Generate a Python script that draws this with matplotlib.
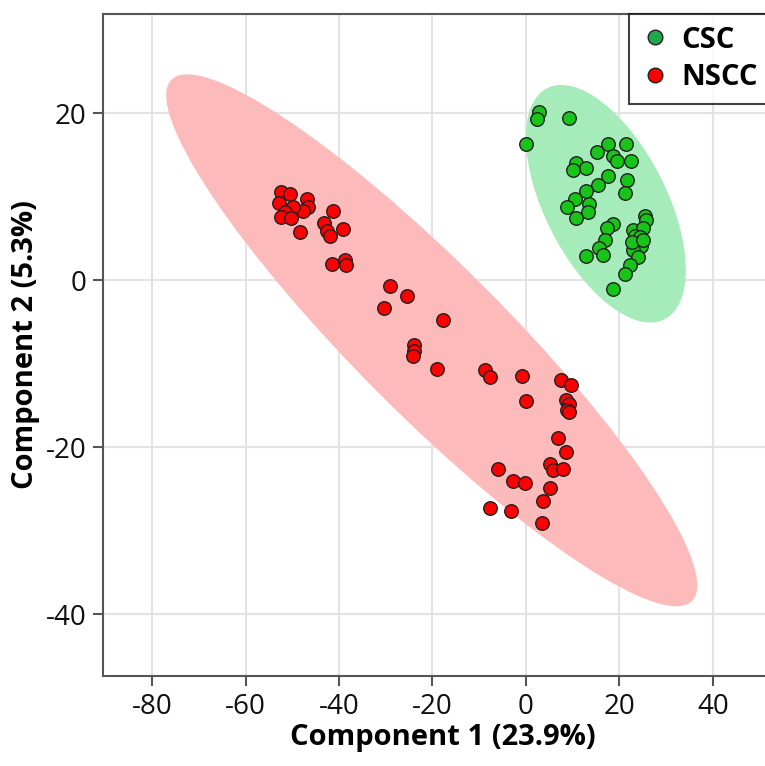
import matplotlib

matplotlib.use('Agg')

import matplotlib.pyplot as plt
import numpy as np
from matplotlib.patches import Ellipse
from matplotlib.lines import Line2D

plt.rcParams['font.family'] = ['Open Sans', 'DejaVu Sans']
plt.rcParams['axes.unicode_minus'] = False

# PLS-DA scores
csc_x = [2.8, 2.4, 9.3, 0.0, 10.7, 12.8, 10.1, 17.5, 21.5, 15.3, 18.7, 19.4, 22.5,
         17.6, 21.7, 15.5, 21.2, 12.8, 10.5, 8.7, 13.5, 13.3, 10.7, 25.5, 25.7,
         18.7, 17.3, 23.0, 25.1, 23.3, 24.4, 16.9, 24.6, 15.7, 23.0, 16.5, 12.8,
         24.0, 22.2, 21.2, 18.7, 22.6, 25.0]
csc_y = [20.2, 19.3, 19.5, 16.3, 14.0, 13.4, 13.2, 16.3, 16.3, 15.4, 14.9, 14.3, 14.3,
         12.5, 12.0, 11.4, 10.4, 10.7, 9.7, 8.8, 9.1, 8.2, 7.5, 7.7, 7.2,
         6.7, 6.3, 6.0, 6.3, 5.3, 5.2, 4.8, 4.1, 3.9, 3.6, 3.0, 2.9,
         2.8, 1.8, 0.7, -1.1, 4.6, 4.8]

nscc_x = [-52.4, -50.5, -52.8, -46.9, -46.6, -47.6, -49.9, -51.6, -52.5, -50.3,
          -48.3, -41.3, -43.2, -42.6, -41.9, -39.1, -41.6, -38.7, -38.5,
          -29.1, -25.4, -30.4, -17.7, -24.0, -23.9, -24.2, -19.0, -8.8, -7.6,
          -0.8, 7.4, 9.6, 8.6, 9.2, 8.7, 9.1, 0.1, 6.9, 8.6, 5.1, 5.7, 8.0,
          -5.9, -2.7, -0.2, 5.1, 3.6, -7.6, -3.3, 3.4]
nscc_y = [10.6, 10.3, 9.3, 9.8, 8.8, 8.3, 8.8, 8.2, 7.6, 7.5,
          5.8, 8.3, 6.9, 5.9, 5.3, 6.1, 1.9, 2.4, 1.8,
          -0.7, -1.9, -3.3, -4.7, -7.7, -8.5, -9.1, -10.6, -10.8, -11.6,
          -11.5, -11.9, -12.6, -14.3, -14.8, -15.5, -15.8, -14.5, -18.9, -20.6,
          -22.0, -22.7, -22.6, -22.6, -24.1, -24.3, -24.9, -26.4, -27.3, -27.6, -29.1]

groups = ['CSC', 'NSCC']
point_colors = ['#19c419', '#ff0000']
legend_colors = ['#1ea84a', '#ff0000']
fill_colors = ['#a6ecbb', '#fcbaba']
x_ticks = [-80, -60, -40, -20, 0, 20, 40]
y_ticks = [-40, -20, 0, 20]


def conf_ellipse(x, y, ax, color, n_std=2.4477):
    # 95% confidence region from the covariance of the scores
    x = np.asarray(x)
    y = np.asarray(y)
    cov = np.cov(x, y)
    vals, vecs = np.linalg.eigh(cov)
    order = vals.argsort()[::-1]
    vals, vecs = vals[order], vecs[:, order]
    angle = np.degrees(np.arctan2(vecs[1, 0], vecs[0, 0]))
    w, h = 2 * n_std * np.sqrt(vals)
    e = Ellipse((x.mean(), y.mean()), w, h, angle=angle, facecolor=color,
                edgecolor='none', zorder=1)
    ax.add_patch(e)


fig = plt.figure(figsize=(7.65, 7.66), dpi=100)
ax = fig.add_axes([0.1346, 0.1175, 0.889, 0.8642])

conf_ellipse(nscc_x, nscc_y, ax, fill_colors[1])
conf_ellipse(csc_x, csc_y, ax, fill_colors[0], n_std=2.6)

ax.scatter(nscc_x, nscc_y, s=95, color=point_colors[1], edgecolor='#202020', linewidth=1, zorder=3)
ax.scatter(csc_x, csc_y, s=95, color=point_colors[0], edgecolor='#202020', linewidth=1, zorder=3)

ax.set_xlim(-90.5, 55)
ax.set_ylim(-47.4, 31.9)
ax.set_xticks(x_ticks)
ax.set_yticks(y_ticks)
ax.grid(True, color='#e3e3e3', linewidth=1.5, zorder=0)
ax.set_axisbelow(True)

for side in ['left', 'bottom', 'top']:
    ax.spines[side].set_color('#555555')
    ax.spines[side].set_linewidth(1.5)
ax.spines['right'].set_visible(False)
ax.tick_params(direction='out', length=7, width=1.5, color='#555555', labelsize=20,
               labelcolor='#111111', pad=5)

ax.set_xlabel('Component 1 (23.9%)', fontsize=21, fontweight='bold', labelpad=2)
ax.set_ylabel('Component 2 (5.3%)', fontsize=21, fontweight='bold', labelpad=4)

handles = [Line2D([], [], marker='o', linestyle='none', markersize=10.5,
                  markerfacecolor=c, markeredgecolor='#202020', markeredgewidth=1)
           for c in legend_colors]
# legend box runs past the right edge of the figure, as in the cropped original
leg = ax.legend(handles, groups, loc='upper left', bbox_to_anchor=(0.7735, 1.0, 0.3, 0),
                mode='expand', prop={'weight': 'bold', 'size': 21}, frameon=True,
                fancybox=False, handletextpad=0.4, borderpad=0.4, labelspacing=0.3,
                handlelength=1.0, borderaxespad=0)
leg.get_frame().set_edgecolor('#111111')
leg.get_frame().set_linewidth(1.5)

plt.savefig('out.png', dpi=100)
